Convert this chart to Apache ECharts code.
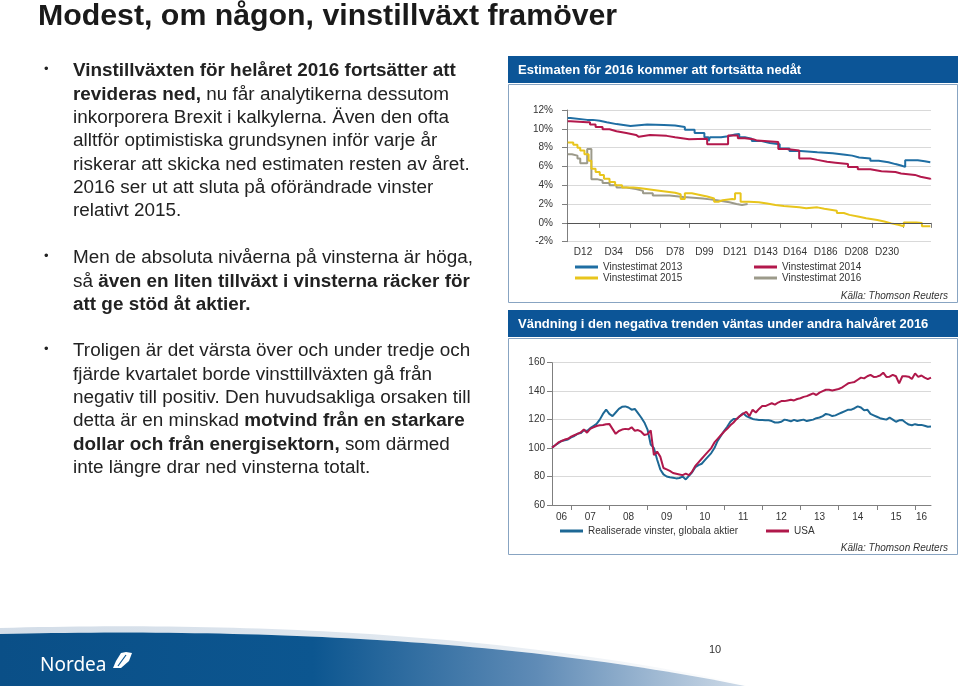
<!DOCTYPE html>
<html>
<head>
<meta charset="utf-8">
<script src="https://cdn.jsdelivr.net/npm/echarts@6/dist/echarts.min.js"></script>
<style>
  html, body { margin:0; padding:0; background:#fff; }
  #wrap { position:relative; width:960px; height:686px; overflow:hidden; font-family:"Liberation Sans", Arial, sans-serif; }
  #chart { position:absolute; left:0; top:0; width:960px; height:686px; }
  .title { position:absolute; left:38px; top:-2px; font-size:30.3px; font-weight:bold; color:#1a1a1a; white-space:nowrap; }
  .blk { position:absolute; left:73px; font-size:18.9px; line-height:23.33px; color:#222; white-space:nowrap; }
  .dot { position:absolute; left:44px; font-size:13px; color:#222; }
</style>
</head>
<body>
<div id="wrap">
  <div id="chart"></div>
  <div class="title">Modest, om någon, vinstillväxt framöver</div>
  <div class="dot" style="top:61px">•</div>
  <div class="blk" style="top:58.3px"><b>Vinstillväxten för helåret 2016 fortsätter att</b><br><b>revideras ned,</b> nu får analytikerna dessutom<br>inkorporera Brexit i kalkylerna. Även den ofta<br>alltför optimistiska grundsynen inför varje år<br>riskerar att skicka ned estimaten resten av året.<br>2016 ser ut att sluta på oförändrade vinster<br>relativt 2015.</div>
  <div class="dot" style="top:248px">•</div>
  <div class="blk" style="top:245.3px">Men de absoluta nivåerna på vinsterna är höga,<br>så <b>även en liten tillväxt i vinsterna räcker för</b><br><b>att ge stöd åt aktier.</b></div>
  <div class="dot" style="top:341px">•</div>
  <div class="blk" style="top:338.3px">Troligen är det värsta över och under tredje och<br>fjärde kvartalet borde vinsttillväxten gå från<br>negativ till positiv. Den huvudsakliga orsaken till<br>detta är en minskad <b>motvind från en starkare</b><br><b>dollar och från energisektorn,</b> som därmed<br>inte längre drar ned vinsterna totalt.</div>
</div>
<script>
// ---------- Chart 1: Vinstestimat (day index, % estimate) as step change points ----------
const dayCount = 261;
const labelDays1 = [12, 34, 56, 78, 99, 121, 143, 164, 186, 208, 230];
const tickIdx1 = [0, 23, 45, 67, 88, 110, 132, 153, 175, 197, 219, 241];
const yTicks1 = [-2, 0, 2, 4, 6, 8, 10, 12];

const est2013 = [[1,11.15],[3,10.95],[15,10.95],[19,10.85],[24,10.7],[29,10.5],[36,10.3],[46,10.1],[47,10.45],[58,10.4],[70,10.35],[78,10.2],[85,9.9],[92,9.55],[99,9.1],[102,8.7],[103,9.1],[111,9.2],[116,9.4],[121,9.45],[124,9.1],[128,8.95],[133,8.7],[140,8.5],[146,8.35],[153,7.9],[160,7.65],[168,7.5],[180,7.4],[191,7.25],[200,7.15],[205,6.95],[210,6.85],[218,6.6],[224,6.45],[231,6.25],[236,6.1],[240,5.95],[243,6.65],[252,6.55],[257,6.45],[261,6.4]];
const est2014 = [[1,10.8],[3,10.7],[15,10.7],[17,10.45],[21,10.2],[26,9.95],[31,9.75],[36,9.55],[43,9.35],[50,9.15],[52,9.35],[60,9.25],[72,9.1],[78,8.9],[88,8.95],[101,8.35],[116,9.3],[123,9.0],[128,8.9],[134,8.75],[137,8.6],[152,7.85],[158,7.7],[167,6.85],[175,6.7],[180,6.5],[187,6.4],[193,6.25],[202,5.95],[209,5.7],[218,5.5],[226,5.4],[236,5.25],[240,5.1],[250,4.9],[254,4.7],[261,4.6]];
const est2015 = [[1,8.55],[5,8.3],[8,8.0],[10,7.7],[13,7.3],[16,6.6],[18,5.75],[21,5.4],[24,5.1],[27,4.7],[31,4.35],[35,4.0],[40,3.75],[48,3.7],[52,3.55],[60,3.4],[68,3.2],[78,3.05],[82,2.55],[85,3.15],[90,3.0],[95,2.8],[101,2.6],[106,2.25],[109,2.4],[112,2.55],[119,2.5],[121,3.15],[125,2.25],[131,2.2],[138,2.05],[144,1.9],[150,1.8],[156,1.65],[167,1.55],[172,1.65],[180,1.5],[185,1.3],[194,1.05],[199,0.85],[203,0.65],[210,0.5],[215,0.3],[223,0.15],[228,-0.05],[233,-0.2],[238,-0.35],[242,0.05],[251,0.0],[255,-0.35],[261,-0.35]];
const est2016 = [[1,7.3],[4,7.15],[8,6.85],[10,6.35],[15,7.85],[18,4.65],[22,4.5],[26,4.25],[31,4.0],[36,3.75],[43,3.6],[50,3.4],[55,3.15],[62,2.9],[74,2.75],[84,2.6],[98,2.5],[103,2.4],[108,2.2],[117,2.0],[122,1.9],[126,2.0],[130,2.0]];

// ---------- Chart 2: Realiserade vinster (index, monthly Jul 2006 - Jun 2016) ----------
const startYear2 = 2006, startMonth2 = 7, monthCount2 = 120;
const labelIdx2 = [3, 12, 24, 36, 48, 60, 72, 84, 96, 108, 116];
const labelTxt2 = ['06','07','08','09','10','11','12','13','14','15','16'];
const tickIdx2 = [6, 18, 30, 42, 54, 66, 78, 90, 102, 114];
const global2 = [100.3,102,103.5,105,105.5,106,107.5,108.5,110,110.5,112.5,112,114,115.5,117,120,124,127,124,122.5,125,127.5,129,129.3,128.5,127,127.5,124.5,121.5,118,113,102.5,100,92,85,81.5,80,79.5,79.2,78.7,79,80,78,80.5,83,86.5,88,89,91.5,94,96.5,100,105,108.5,112,115,118.5,120.5,120.5,122.5,124.5,122.5,121.5,120.5,120,119.8,119.8,119.5,119.5,119,118,118,118.5,120,119.5,118.8,119.8,119,119.5,120,119,119.5,120,121,121.5,122.5,124,123.5,122.5,123,124,125,126,127,127,128,129.3,128.5,126.5,127,124,123,122,121,120.5,120,121.5,120,118.5,119.5,119.7,118,116.5,116,116.8,116.2,116.3,115.7,115,115.2];
const usa2 = [100.3,102,104,105,106,106.5,108,109,110,111,113,110.8,113.5,114.5,115.5,116,116.2,116.8,117,113.5,110,112,113,113.5,113.2,114.6,112.2,112.7,111.5,109.2,109.8,112.5,95,97.5,94,86,85,84,82.5,82,81.5,81,82,81,83.5,87.5,90,92.5,95,97.5,100,104,106.5,109,111.5,113.5,116,118,120.5,122.5,124,125.5,122.5,127,125,127.5,129.5,129.5,130.5,131.5,130.5,132,133,133,133.5,134,133.5,134.5,135,136,136.5,137.5,138.5,137.3,139,140,141,141,140.5,141,141.5,142.5,144,145.5,146,146.5,148,149.5,149,150.5,151.5,150,150.2,151,153,150,150.2,151.5,150.5,145.5,150.5,150.5,150.2,148.5,152.5,150,151,149.5,148.5,149.5];

// ---------- build categories ----------
const cats1 = Array.from({length: dayCount}, (_, i) => 'D' + (i + 1));
const cats2 = Array.from({length: monthCount2}, (_, i) => {
  const m = startMonth2 - 1 + i;
  return (startYear2 + Math.floor(m / 12)) + '-' + String(m % 12 + 1).padStart(2, '0');
});
const toPts = arr => arr.map(p => [p[0] - 1, p[1]]);

// decorative curve helper for the footer banner
function bez(p0, p1, p2, p3, n) {
  const out = [];
  for (let k = 0; k <= n; k++) {
    const t = k / n, u = 1 - t;
    out.push([
      u*u*u*p0[0] + 3*u*u*t*p1[0] + 3*u*t*t*p2[0] + t*t*t*p3[0],
      u*u*u*p0[1] + 3*u*u*t*p1[1] + 3*u*t*t*p2[1] + t*t*t*p3[1]
    ]);
  }
  return out;
}
const topEdge = bez([0, 634], [260, 628], [520, 640], [745, 686], 60);
const bannerPts = topEdge.concat([[0, 686]]);
const glowTop = bez([0, 628], [260, 621], [520, 635], [752, 686], 60);
const glowPts = glowTop.concat(topEdge.slice().reverse());

const FONT = 'Liberation Sans';
const C13 = '#1f6ea3', C14 = '#b3184c', C15 = '#e8c51c', C16 = '#9c9a8a';
const CG = '#1d6895', CU = '#b0184b';
const HDR = '#0c5597', BOX = '#88a4c2';

const chart = echarts.init(document.getElementById('chart'), null, {renderer: 'canvas'});
const legendBase = (name, left, top) => ({
  data: [name], left: left, top: top, padding: 0, itemGap: 0,
  icon: 'rect', itemWidth: 23, itemHeight: 3, itemStyle: {borderWidth: 0},
  selectedMode: false,
  textStyle: {fontFamily: FONT, fontSize: 10, color: '#333'}
});

const option = {
  backgroundColor: '#ffffff',
  animation: false,
  textStyle: {fontFamily: FONT},
  grid: [
    {left: 567, top: 110, width: 364, height: 131.7, containLabel: false},
    {left: 552, top: 362.7, width: 379, height: 142.3, containLabel: false}
  ],
  legend: [
    legendBase('Vinstestimat 2013', 575, 262),
    legendBase('Vinstestimat 2014', 754, 262),
    legendBase('Vinstestimat 2015', 575, 273),
    legendBase('Vinstestimat 2016', 754, 273),
    legendBase('Realiserade vinster, globala aktier', 560, 526),
    legendBase('USA', 766, 526)
  ],
  xAxis: [
    {
      type: 'category', gridIndex: 0, data: cats1, boundaryGap: true,
      axisLine: {show: true, lineStyle: {color: '#7f7f7f', width: 1}},
      axisTick: {show: true, length: 5, lineStyle: {color: '#7f7f7f'},
        interval: (i) => tickIdx1.indexOf(i) >= 0},
      axisLabel: {interval: (i) => labelDays1.indexOf(i + 1) >= 0, fontSize: 10, color: '#333', margin: 6, fontFamily: FONT},
      splitLine: {show: false}
    },
    {
      type: 'category', gridIndex: 1, data: cats2, boundaryGap: false,
      axisLine: {show: true, lineStyle: {color: '#7f7f7f', width: 1}},
      axisTick: {show: true, length: 5, lineStyle: {color: '#7f7f7f'},
        interval: (i) => tickIdx2.indexOf(i) >= 0},
      axisLabel: {interval: (i) => labelIdx2.indexOf(i) >= 0,
        formatter: (v, i) => { const k = labelIdx2.indexOf(i); return k >= 0 ? labelTxt2[k] : ''; },
        fontSize: 10, color: '#333', margin: 7, fontFamily: FONT},
      splitLine: {show: false}
    }
  ],
  yAxis: [
    {
      type: 'value', gridIndex: 0, min: yTicks1[0], max: yTicks1[yTicks1.length - 1], interval: 2,
      axisLine: {show: true, lineStyle: {color: '#7f7f7f'}},
      axisTick: {show: true, length: 5, lineStyle: {color: '#7f7f7f'}},
      axisLabel: {formatter: '{value}%', fontSize: 10, color: '#333', margin: 14, fontFamily: FONT},
      splitLine: {show: true, lineStyle: {color: '#d9d9d9', width: 1}}
    },
    {
      type: 'value', gridIndex: 1, min: 60, max: 160, interval: 20,
      axisLine: {show: true, lineStyle: {color: '#7f7f7f'}},
      axisTick: {show: true, length: 5, lineStyle: {color: '#7f7f7f'}},
      axisLabel: {fontSize: 10, color: '#333', margin: 7, fontFamily: FONT},
      splitLine: {show: true, lineStyle: {color: '#d9d9d9', width: 1}}
    }
  ],
  series: [
    {name: 'Vinstestimat 2013', type: 'line', xAxisIndex: 0, yAxisIndex: 0, step: 'end', data: toPts(est2013),
      showSymbol: false, symbol: 'none', color: C13, lineStyle: {color: C13, width: 2}, z: 4,
      markLine: {silent: true, symbol: 'none', label: {show: false}, lineStyle: {color: '#555', width: 1.2, type: 'solid'}, data: [{yAxis: 0}]}},
    {name: 'Vinstestimat 2014', type: 'line', xAxisIndex: 0, yAxisIndex: 0, step: 'end', data: toPts(est2014),
      showSymbol: false, symbol: 'none', color: C14, lineStyle: {color: C14, width: 2}, z: 5},
    {name: 'Vinstestimat 2015', type: 'line', xAxisIndex: 0, yAxisIndex: 0, step: 'end', data: toPts(est2015),
      showSymbol: false, symbol: 'none', color: C15, lineStyle: {color: C15, width: 2}, z: 4},
    {name: 'Vinstestimat 2016', type: 'line', xAxisIndex: 0, yAxisIndex: 0, step: 'end', data: toPts(est2016),
      showSymbol: false, symbol: 'none', color: C16, lineStyle: {color: C16, width: 2}, z: 3},
    {name: 'Realiserade vinster, globala aktier', type: 'line', xAxisIndex: 1, yAxisIndex: 1, data: global2,
      showSymbol: false, symbol: 'none', color: CG, lineStyle: {color: CG, width: 2}, z: 4},
    {name: 'USA', type: 'line', xAxisIndex: 1, yAxisIndex: 1, data: usa2,
      showSymbol: false, symbol: 'none', color: CU, lineStyle: {color: CU, width: 2}, z: 5}
  ],
  graphic: [
    {type: 'rect', shape: {x: 508.5, y: 84.5, width: 449, height: 218}, style: {fill: 'none', stroke: BOX, lineWidth: 1}, silent: true},
    {type: 'rect', shape: {x: 508, y: 56, width: 450, height: 27}, style: {fill: HDR}, silent: true},
    {type: 'text', x: 518, y: 70, style: {text: 'Estimaten för 2016 kommer att fortsätta nedåt', fill: '#ffffff', font: 'bold 13px "Liberation Sans"', textVerticalAlign: 'middle', verticalAlign: 'middle'}, silent: true},
    {type: 'text', x: 948, y: 296, style: {text: 'Källa: Thomson Reuters', fill: '#333', font: 'italic 10px "Liberation Sans"', textAlign: 'right', align: 'right', textVerticalAlign: 'middle', verticalAlign: 'middle'}, silent: true},
    {type: 'rect', shape: {x: 508.5, y: 338.5, width: 449, height: 216}, style: {fill: 'none', stroke: BOX, lineWidth: 1}, silent: true},
    {type: 'rect', shape: {x: 508, y: 310, width: 450, height: 27}, style: {fill: HDR}, silent: true},
    {type: 'text', x: 518, y: 324, style: {text: 'Vändning i den negativa trenden väntas under andra halvåret 2016', fill: '#ffffff', font: 'bold 13px "Liberation Sans"', textVerticalAlign: 'middle', verticalAlign: 'middle'}, silent: true},
    {type: 'text', x: 948, y: 548, style: {text: 'Källa: Thomson Reuters', fill: '#333', font: 'italic 10px "Liberation Sans"', textAlign: 'right', align: 'right', textVerticalAlign: 'middle', verticalAlign: 'middle'}, silent: true},
    {type: 'polygon', shape: {points: glowPts},
      style: {fill: {type: 'linear', x: 0, y: 0, x2: 1, y2: 0, colorStops: [{offset: 0, color: '#d3dde8'}, {offset: 0.6, color: '#e2e9f0'}, {offset: 1, color: '#ffffff'}]}}, silent: true},
    {type: 'polygon', shape: {points: bannerPts},
      style: {fill: {type: 'linear', x: 0, y: 0, x2: 1, y2: 0, colorStops: [{offset: 0, color: '#0a4f87'}, {offset: 0.42, color: '#0c5690'}, {offset: 0.72, color: '#5f8bb6'}, {offset: 1, color: '#cfdbe8'}]}}, silent: true},
    {type: 'text', x: 40, y: 666, style: {text: 'Nordea', fill: '#ffffff', font: '19px "Noto Sans"', textVerticalAlign: 'middle', verticalAlign: 'middle'}, silent: true},
    {type: 'polygon', shape: {points: [[113,668],[116,661],[121,653],[126,652],[132,653],[129,661],[121,668]]}, style: {fill: '#ffffff'}, silent: true},
    {type: 'line', shape: {x1: 118, y1: 666, x2: 126, y2: 655}, style: {stroke: '#0c5690', lineWidth: 1.2}, silent: true},
    {type: 'text', x: 715, y: 650, style: {text: '10', fill: '#333', font: '11px "Liberation Sans"', textAlign: 'center', align: 'center', textVerticalAlign: 'middle', verticalAlign: 'middle'}, silent: true}
  ]
};
chart.setOption(option);
</script>
</body>
</html>
